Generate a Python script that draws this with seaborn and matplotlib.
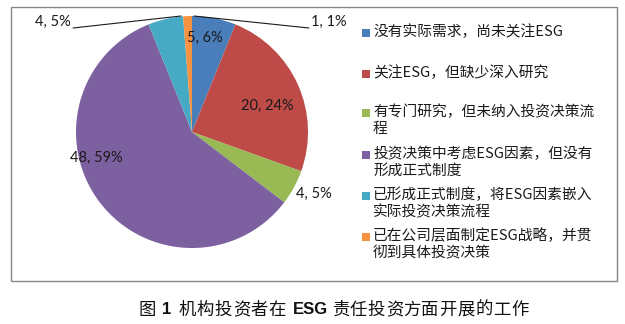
import matplotlib
matplotlib.use("Agg")
import matplotlib.pyplot as plt
import seaborn as sns
from matplotlib.patches import Rectangle

sns.set_theme(style="white")
plt.rcParams['font.family'] = ['Noto Sans CJK SC', 'DejaVu Sans']

categories = [
    "没有实际需求，尚未关注ESG",
    "关注ESG，但缺少深入研究",
    "有专门研究，但未纳入投资决策流\n程",
    "投资决策中考虑ESG因素，但没有\n形成正式制度",
    "已形成正式制度，将ESG因素嵌入\n实际投资决策流程",
    "已在公司层面制定ESG战略，并贯\n彻到具体投资决策",
]
counts = [5, 20, 4, 48, 4, 1]
pct_labels = ["6%", "24%", "5%", "59%", "5%", "1%"]
colors = ["#4A7EBB", "#BE4B48", "#98B954", "#7D60A0", "#46AAC5", "#F69240"]
title_parts = [("图", False), ("1", True), ("机构投资者在", False), ("ESG", True),
               ("责任投资方面开展的工作", False)]

W, H = 625, 324
fig = plt.figure(figsize=(W / 100, H / 100), dpi=100)

def fx(px):
    return px / W

def fy(py):
    return 1 - py / H

# chart border
fig.patches.append(Rectangle((fx(11), fy(281)), fx(617) - fx(11), fy(7) - fy(281),
                             transform=fig.transFigure, fill=False,
                             edgecolor="#868686", linewidth=1.0))

# pie axes: center (192,132), radius 116 px
cx, cy, r = 192, 132, 116
ax = fig.add_axes([fx(cx - r), fy(cy + r), 2 * r / W, 2 * r / H])
ax.pie(counts, colors=colors, startangle=90, counterclock=False, radius=1,
       wedgeprops=dict(linewidth=0))
ax.set_xlim(-1, 1)
ax.set_ylim(-1, 1)
ax.set_aspect("auto")
ax.axis("off")

labels = [f"{c}, {p}" for c, p in zip(counts, pct_labels)]
pos = [(205, 38), (267, 106), (314, 194), (96, 158), (53, 22), (329, 22)]
for lab, (px, py) in zip(labels, pos):
    ax.text((px - cx) / r, (cy - py) / r, lab, ha="center", va="center",
            fontsize=10.5, family=["Lato", "DejaVu Sans"], color="#1a1a1a",
            clip_on=False)

def line(p1, p2):
    ax.plot([(p1[0] - cx) / r, (p2[0] - cx) / r],
            [(cy - p1[1]) / r, (cy - p2[1]) / r],
            color="#1a1a1a", linewidth=0.8, clip_on=False)

line((73, 28), (181, 16))
line((194, 16), (309, 28))

# legend (manual, Excel-like evenly spaced slots)
first_line_y = [33, 74, 113, 155, 196, 237]
for cat, col, y in zip(categories, colors, first_line_y):
    fig.patches.append(Rectangle((fx(362), fy(y + 4)), 8 / W, 8 / H,
                                 transform=fig.transFigure,
                                 facecolor=col, edgecolor="none"))
    fig.text(fx(373), fy(y - 8.5), cat, ha="left", va="top", fontsize=10.6,
             color="#1a1a1a", linespacing=1.25)

# caption below the chart, CJK characters with letter spacing
starts = [138, 162, 179, 293, 332]
pitch = 17.9
for (txt, bold), x0 in zip(title_parts, starts):
    if bold:
        fig.text(fx(x0), fy(310), txt, ha="left", va="center", fontsize=12,
                 fontweight="bold", family=["Liberation Sans", "DejaVu Sans"],
                 color="#111111")
    else:
        for i, ch in enumerate(txt):
            fig.text(fx(x0 + i * pitch), fy(310), ch, ha="left", va="center",
                     fontsize=12.5, fontweight="medium",
                     family=["Noto Sans CJK SC", "DejaVu Sans"],
                     color="#111111")

fig.savefig("out.png", dpi=100)
